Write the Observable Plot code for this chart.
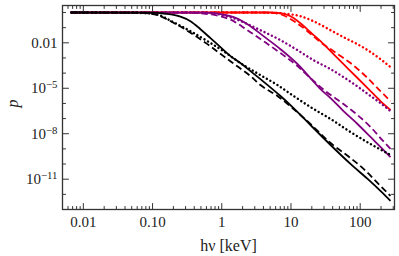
<!DOCTYPE html>
<html><head><meta charset="utf-8">
<script src="https://cdn.jsdelivr.net/npm/d3@7"></script>
<script src="https://cdn.jsdelivr.net/npm/@observablehq/plot@0.6"></script>
<style>body{margin:0;background:#fff} svg{display:block}</style>
</head><body><div id="chart"></div>
<script>
// [photon energy hν in keV, p]
const blackSolid = [[0.0067,1],[0.093,0.97],[0.154,0.83],[0.253,0.53],[0.353,0.267],[0.492,0.079],[0.687,0.0203],[0.957,5.2e-3],[1.34,1.32e-3],[1.86,4.6e-4],[2.6,1.36e-4],[3.62,4.0e-5],[7.05,3.1e-6],[10.9,4.97e-7],[19.1,3.77e-8],[37.3,1.81e-9],[72.4,1.02e-10],[128,1.04e-11],[196,1.69e-12],[274,3.7e-13]];
const blackDashed = [[0.0067,1],[0.048,0.97],[0.079,0.9],[0.118,0.66],[0.2,0.213],[0.353,0.0467],[0.621,8.2e-3],[1.06,1.32e-3],[1.74,2.5e-4],[2.6,6.4e-5],[3.62,1.63e-5],[6.38,3.1e-6],[10.9,4.3e-7],[19.1,4.4e-8],[37.3,2.45e-9],[72.4,2.5e-10],[112,4.8e-11],[172,6.6e-12],[274,7.9e-13]];
const blackDotted = [[0.0067,1],[0.048,0.97],[0.079,0.9],[0.118,0.72],[0.2,0.23],[0.353,0.0586],[0.621,0.0129],[1.06,2.8e-3],[1.86,4.6e-4],[3.62,7.4e-5],[6.38,1.63e-5],[10.9,3.1e-6],[19.1,5.8e-7],[37.3,9.4e-8],[72.4,1.3e-8],[141,2.1e-9],[274,4.0e-10]];
const purpleSolid = [[0.0067,1],[0.581,0.985],[0.811,0.9],[1.06,0.72],[1.34,0.57],[2.35,0.169],[4.01,0.0275],[7.05,3.8e-3],[12.4,4.0e-4],[19.1,4.7e-5],[26.7,8.9e-6],[37.3,2.26e-6],[57.4,3.1e-7],[91.4,4.4e-8],[141,6.1e-9],[196,1.34e-9],[274,2.9e-10]];
const purpleDashed = [[0.0067,1],[0.353,0.97],[0.581,0.83],[0.811,0.66],[1.34,0.336],[2.35,0.068],[4.01,0.0129],[7.05,2.1e-3],[12.4,2.9e-4],[19.1,4.7e-5],[31.5,6.5e-6],[57.4,9.1e-7],[91.4,1.72e-7],[141,2.8e-8],[196,5.2e-9],[274,9.9e-10]];
const purpleDotted = [[0.0067,1],[0.492,1],[0.811,0.83],[1.34,0.49],[2.2,0.197],[3.62,0.068],[7.05,0.015],[12.4,3.3e-3],[21.1,7.2e-4],[37.3,1.84e-4],[57.4,5.5e-5],[85.5,1.63e-5],[141,3.1e-6],[196,1.06e-6],[274,3.1e-7]];
const redSolid = [[0.0067,1],[5.06,1],[7.05,0.9],[9.84,0.57],[13.7,0.197],[19.1,0.05],[26.7,0.0129],[41.2,1.79e-3],[57.4,3.9e-4],[72.4,1.36e-4],[128,1.03e-5],[196,1.43e-6],[274,3.7e-7]];
const redDashed = [[0.0067,1],[4.28,1],[5.97,0.9],[8.33,0.57],[11.6,0.23],[17.3,0.0586],[26.7,0.011],[41.2,2.8e-3],[57.4,9.8e-4],[72.4,4.6e-4],[128,4.7e-5],[196,6.5e-6],[274,1.43e-6]];
const redDotted = [[0.0067,1],[2.6,1],[5.06,0.955],[8.33,0.83],[13.7,0.57],[21.1,0.267],[37.3,0.068],[57.4,0.0236],[85.5,9.5e-3],[128,3.3e-3],[196,8.4e-4],[274,2.5e-4]];

const xTicks = [0.01, 0.1, 1, 10, 100];
const xTickLabels = ["0.01", "0.10", "1", "10", "100"];
const yTicks = [1e-2, 1e-5, 1e-8, 1e-11];
const yTickLabels = ["0.01", "10^-5", "10^-8", "10^-11"];
const xLabel = "hν [keV]";
const yLabel = "p";

const xDomain = [0.005, 313];
const yDomain = [1e-13, 2.9];

// minor ticks
const xMinor = [];
for (let e = -3; e <= 2; e++) for (let k = 2; k <= 9; k++) {
  const v = k * Math.pow(10, e);
  if (v > xDomain[0] && v < xDomain[1]) xMinor.push(v);
}
const yMinor = [];
for (let e = 0; e >= -13; e--) {
  const v = Math.pow(10, e);
  if (!yTicks.some(t => Math.abs(Math.log10(t) - e) < 1e-9)) yMinor.push(v);
}

const PURPLE = "#800080", RED = "#ff0000", BLACK = "#000000";
const FONT = "'Liberation Serif', 'Times New Roman', serif";
const series = [
  {data: redDotted, color: RED, style: "dot"},
  {data: redDashed, color: RED, style: "dash"},
  {data: redSolid, color: RED, style: "solid"},
  {data: purpleDotted, color: PURPLE, style: "dot"},
  {data: purpleDashed, color: PURPLE, style: "dash"},
  {data: purpleSolid, color: PURPLE, style: "solid"},
  {data: blackDotted, color: BLACK, style: "dot"},
  {data: blackDashed, color: BLACK, style: "dash"},
  {data: blackSolid, color: BLACK, style: "solid"}
];

const tickShape = {draw(ctx, l) { ctx.moveTo(0, 0); ctx.lineTo(0, -l); }};
const axisColor = "#333";
function ticks(vals, dim, anchor, rotate, len) {
  const o = {frameAnchor: anchor, rotate, length: len, anchor: "start", shape: tickShape, stroke: axisColor, strokeWidth: 1};
  o[dim] = d => d;
  return Plot.vector(vals, o);
}

const lineMarks = series.map(s => Plot.line(s.data, {
  x: d => d[0], y: d => d[1], stroke: s.color,
  strokeWidth: s.style === "dot" ? 2.4 : 1.8,
  strokeDasharray: s.style === "dash" ? "6.5,3.5" : s.style === "dot" ? "0.1,4" : null,
  strokeLinecap: s.style === "dot" ? "round" : "butt",
  curve: "monotone-x"
}));

const svg = Plot.plot({
  width: 399, height: 256,
  marginLeft: 62, marginRight: 5, marginTop: 5, marginBottom: 47,
  style: {fontFamily: FONT, fontSize: "15px", color: "#222", background: "#fff"},
  x: {type: "log", domain: xDomain, ticks: xTicks, tickSize: 0, tickPadding: 7,
      tickFormat: d => xTickLabels[xTicks.findIndex(t => Math.abs(t - d) < 1e-12)], label: null},
  y: {type: "log", domain: yDomain, ticks: yTicks, tickSize: 0, tickPadding: 5,
      tickFormat: d => yTickLabels[yTicks.findIndex(t => Math.abs(Math.log10(t) - Math.log10(d)) < 1e-9)], label: null},
  marks: [
    ...lineMarks,
    ticks(xTicks, "x", "bottom", 0, 6),
    ticks(xMinor, "x", "bottom", 0, 3),
    ticks(xTicks, "x", "top", 180, 6),
    ticks(xMinor, "x", "top", 180, 3),
    ticks(yTicks, "y", "left", 90, 6),
    ticks(yMinor, "y", "left", 90, 3),
    ticks(yTicks, "y", "right", -90, 6),
    ticks(yMinor, "y", "right", -90, 3),
    Plot.frame({stroke: axisColor, strokeWidth: 1.3}),
    Plot.text([yLabel], {frameAnchor: "left", dx: -50, rotate: -90, fontStyle: "italic", fontSize: 16, fontFamily: FONT, ariaLabel: "y-label"}),
    Plot.text([xLabel], {frameAnchor: "bottom", dy: 41, fontSize: 16, fontFamily: FONT, ariaLabel: "x-label"})
  ]
});

// superscripts for y tick labels
d3.select(svg).selectAll('g[aria-label="y-axis tick label"] text').each(function() {
  const t = this.textContent;
  if (t.includes("^")) {
    const [b, e] = t.split("^");
    const s = d3.select(this);
    s.text(b);
    s.append("tspan").attr("dy", "-0.45em").attr("font-size", "0.72em").text(e.replace("-", "\u2212"));
  }
});
// italic hν in x label
d3.select(svg).selectAll('g[aria-label="x-label"] text').each(function() {
  const t = this.textContent;
  const i = t.indexOf(" ");
  const s = d3.select(this);
  s.text(null);
  s.append("tspan").attr("font-style", "italic").text(t.slice(0, i));
  s.append("tspan").text(t.slice(i));
});

document.getElementById("chart").appendChild(svg);
</script>
</body></html>
